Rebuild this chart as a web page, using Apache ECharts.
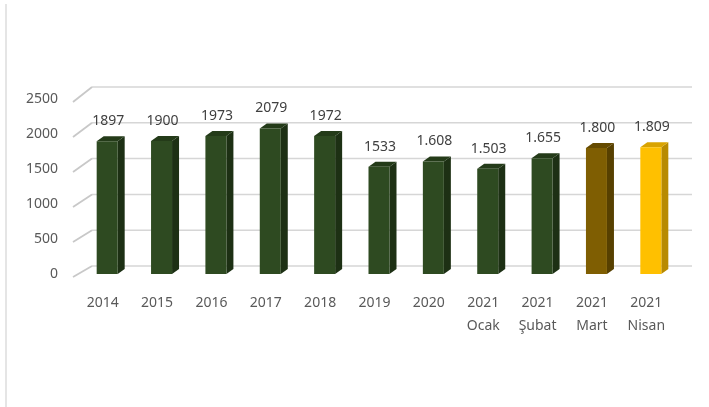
<!DOCTYPE html>
<html><head><meta charset="utf-8">
<script src="https://cdn.jsdelivr.net/npm/echarts@6/dist/echarts.min.js"></script>
<style>html,body{margin:0;padding:0;background:#fff}#c{width:709px;height:407px}</style>
</head><body><div id="c"></div>
<script>
const categories = ['2014','2015','2016','2017','2018','2019','2020','2021\nOcak','2021\nŞubat','2021\nMart','2021\nNisan'];
const values = [1897,1900,1973,2079,1972,1533,1608,1503,1655,1800,1809];
const valueLabels = ['1897','1900','1973','2079','1972','1533','1.608','1.503','1.655','1.800','1.809'];
const yTicks = [0,500,1000,1500,2000,2500];
const barKinds = ['g','g','g','g','g','g','g','g','g','m','n'];

const palette = {
  g:{front:'#2e4a21', side:'#1d3014', top:'#243b19'},
  m:{front:'#7f5e02', side:'#574000', top:'#654a00'},
  n:{front:'#ffc000', side:'#b88a00', top:'#d9a300'}
};
const FONT = '"Noto Sans", "Open Sans", sans-serif';
const GRID_COLOR = '#d6d6d6';
const chart = echarts.init(document.getElementById('c'));
chart.setOption({
  animation:false,
  grid:[{left:80,right:31,top:99,bottom:133}],
  xAxis:[
    {type:'category',data:categories,axisLine:{show:false},axisTick:{show:false},
     axisLabel:{color:'#595959',fontSize:14,fontFamily:FONT,margin:18,lineHeight:23,padding:[0,9,0,0]}}
  ],
  yAxis:[
    {type:'value',min:0,max:2500,interval:500,axisLine:{show:false},axisTick:{show:false},
     splitLine:{show:false},axisLabel:{color:'#595959',fontSize:14,fontFamily:FONT,margin:22,formatter:v=>String(v)}}
  ],
  series:[
    {type:'custom',data:yTicks.map(t=>[0,t]),silent:true,z:1,clip:false,
     renderItem:function(params,api){
       const t = api.value(1);
       const p = api.coord([0,t]);
       const rect = params.coordSys;
       const backLeft = rect.x + 12, backRight = rect.x + rect.width + 14;
       const yb = p[1] - 8 - 4*(t/2500);
       return {type:'group',children:[
         {type:'line',shape:{x1:backLeft,y1:yb,x2:backRight,y2:yb},style:{stroke:GRID_COLOR,lineWidth:1.5}},
         {type:'polyline',shape:{points:[[backLeft,yb],[rect.x-7,p[1]+3]]},style:{stroke:'#c8c8c8',lineWidth:1.8,fill:null}}
       ]};
     }},
    {type:'custom',data:values.map((v,i)=>[i,v]),z:2,clip:false,
     renderItem:function(params,api){
       const i = api.value(0), v = api.value(1);
       const top = api.coord([i,v]);
       const base = api.coord([i,0]);
       const w = 21, dx = 7, dy = -5;
       const x0 = top[0]-w/2, x1 = top[0]+w/2;
       const c = palette[barKinds[params.dataIndex]];
       return {type:'group',children:[
         {type:'polygon',shape:{points:[[x1,top[1]],[x1+dx,top[1]+dy],[x1+dx,base[1]+dy],[x1,base[1]]]},style:{fill:c.side}},
         {type:'polygon',shape:{points:[[x0,top[1]],[x0+dx,top[1]+dy],[x1+dx,top[1]+dy],[x1,top[1]]]},style:{fill:c.top}},
         {type:'rect',shape:{x:x0,y:top[1],width:w,height:base[1]-top[1]},style:{fill:c.front}},
         {type:'text',x:top[0]+1,y:top[1]-20,style:{text:valueLabels[params.dataIndex],fill:'#404040',fontSize:14,fontFamily:FONT,align:'center',verticalAlign:'middle'}}
       ]};
     }}
  ],
  graphic:[{type:'line',shape:{x1:6,y1:4,x2:6,y2:407},style:{stroke:'#dcdcdc',lineWidth:1.5}}]
});
</script></body></html>
